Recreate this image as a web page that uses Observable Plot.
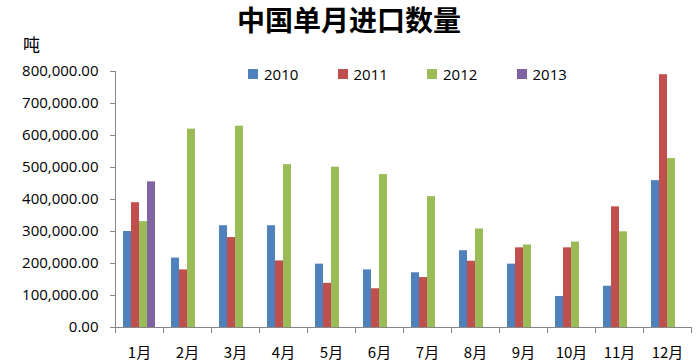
<!DOCTYPE html>
<html><head><meta charset="utf-8">
<script src="https://cdn.jsdelivr.net/npm/d3@7"></script>
<script src="https://cdn.jsdelivr.net/npm/@observablehq/plot@0.6"></script>
<style>
body{margin:0;background:#fff;width:698px;height:363px;position:relative;overflow:hidden;font-family:"Open Sans",sans-serif;}
#title{position:absolute;left:0;top:0;width:698px;height:36px;text-align:center;font-family:"Noto Sans CJK SC";font-weight:700;font-size:28px;line-height:38px;color:#000;}
#unit{position:absolute;left:23px;top:31px;font-family:"Noto Sans CJK SC";font-size:17px;color:#000;}
#chart{position:absolute;left:0;top:36px;}
#legend{position:absolute;left:248px;top:64px;display:flex;font-family:"Open Sans";font-size:15px;color:#000;}
#legend .it{display:flex;align-items:center;width:89.5px;}
#legend .sw{width:10px;height:10px;margin-right:6px;}
</style></head>
<body>
<div id="title">中国单月进口数量</div>
<div id="unit">吨</div>
<div id="chart"></div>
<div id="legend"></div>
<script>
const months = ["1月","2月","3月","4月","5月","6月","7月","8月","9月","10月","11月","12月"];
const years = ["2010","2011","2012","2013"];
const colors = ["#4f81bd","#c0504d","#9bbb59","#8064a2"];
const v2010 = [300000,217000,318000,318000,198000,180000,171000,240000,198000,97000,129000,459000];
const v2011 = [390000,180000,281000,208000,138000,121000,156000,207000,249000,249000,377000,790000];
const v2012 = [331000,620000,629000,509000,501000,478000,409000,308000,258000,267000,299000,528000];
const v2013 = [455000];
const yTicks = [0,100000,200000,300000,400000,500000,600000,700000,800000];

const series = [v2010, v2011, v2012, v2013];
const data = [];
series.forEach((arr, i) => arr.forEach((v, j) => data.push({month: months[j], year: years[i], value: v})));

const plot = Plot.plot({
  width: 698,
  height: 327,
  marginLeft: 112,
  marginRight: 5,
  marginTop: 35,
  marginBottom: 36,
  style: {fontFamily: "Open Sans", fontSize: "15px", color: "#000", background: "transparent"},
  fx: {domain: months, padding: 0, label: null},
  x: {domain: years, paddingInner: 0, paddingOuter: 0.78, axis: null},
  y: {domain: [0, 800000], label: null},
  color: {domain: years, range: colors},
  marks: [
    Plot.axisY({ticks: yTicks, tickFormat: d3.format(",.2f"), tickSize: 5, tickPadding: 12, stroke: "#868686", fontSize: 15}),
    Plot.axisFx({anchor: "bottom", tickSize: 0, tickPadding: 20, fontFamily: "Noto Sans CJK SC", fontSize: 15}),
    Plot.barY(data, {fx: "month", x: "year", y: "value", fill: "year"}),
    Plot.ruleY([0], {stroke: "#868686"})
  ]
});
document.getElementById("chart").appendChild(plot);

// axis lines and category boundary ticks, from the plot's own scales
const fx = plot.scale("fx"), y = plot.scale("y");
const svg = d3.select(plot);
const g = svg.append("g").attr("stroke", "#868686").attr("stroke-width", 1);
const y0 = y.apply(0), y1 = y.apply(800000);
const xl = fx.apply(months[0]);
g.append("line").attr("x1", xl + 0.5).attr("x2", xl + 0.5).attr("y1", y1).attr("y2", y0);
const bounds = months.map(m => fx.apply(m)).concat([fx.apply(months[months.length-1]) + fx.bandwidth]);
bounds.forEach(b => g.append("line").attr("x1", b + 0.5).attr("x2", b + 0.5).attr("y1", y0).attr("y2", y0 + 6));

// legend
const lg = d3.select("#legend");
years.forEach((yr, i) => {
  const it = lg.append("div").attr("class", "it");
  it.append("div").attr("class", "sw").style("background", colors[i]);
  it.append("span").text(yr);
});
</script>
</body></html>
